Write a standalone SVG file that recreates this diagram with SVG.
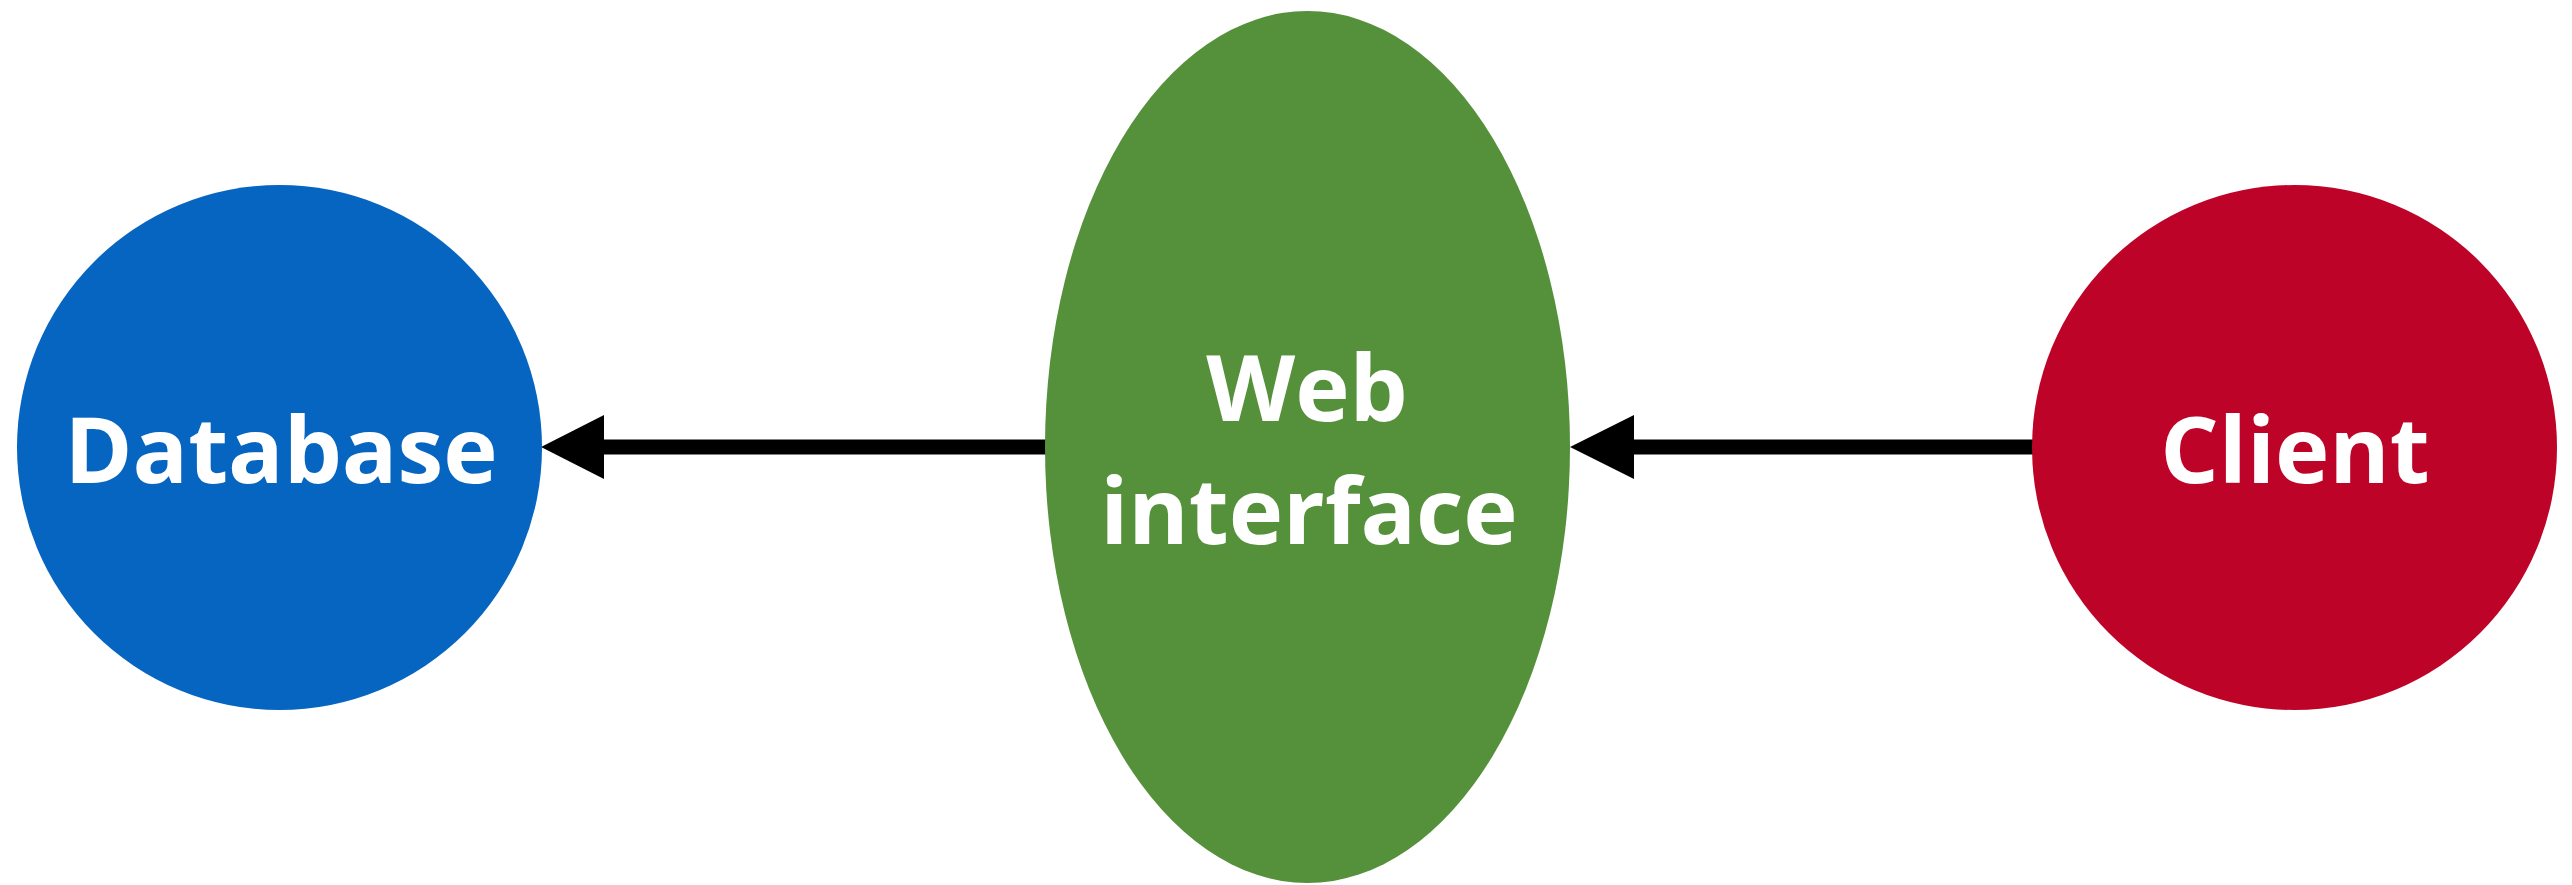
<svg xmlns="http://www.w3.org/2000/svg" width="2572" height="885" viewBox="0 0 2572 885">
<defs>
<style>
.lbl{font-family:"Open Sans","Noto Sans","Liberation Sans",sans-serif;font-weight:700;font-size:92px;fill:#ffffff;text-anchor:middle}
.edge{stroke:#000000;stroke-width:15;fill:none}
.head{fill:#000000}
</style>
</defs>
<rect width="2572" height="885" fill="#ffffff"/>
<g id="connectors">
<line class="edge" x1="1046" y1="447" x2="600" y2="447"/>
<polygon class="head" points="541,447 604,415 604,479"/>
<line class="edge" x1="2033" y1="447" x2="1630" y2="447"/>
<polygon class="head" points="1570,447 1634,415 1634,479"/>
</g>
<g id="database">
<circle cx="279.5" cy="447.5" r="262.5" fill="#0565C0"/>
<text class="lbl" x="281" y="483">Database</text>
</g>
<g id="web-interface">
<ellipse cx="1307.5" cy="447" rx="262.5" ry="436" fill="#55903A"/>
<text class="lbl" x="1307" y="421">Web</text>
<text class="lbl" x="1309" y="544">interface</text>
</g>
<g id="client">
<circle cx="2294.5" cy="447.5" r="262.5" fill="#BE0329"/>
<text class="lbl" x="2295" y="483">Client</text>
</g>
</svg>
